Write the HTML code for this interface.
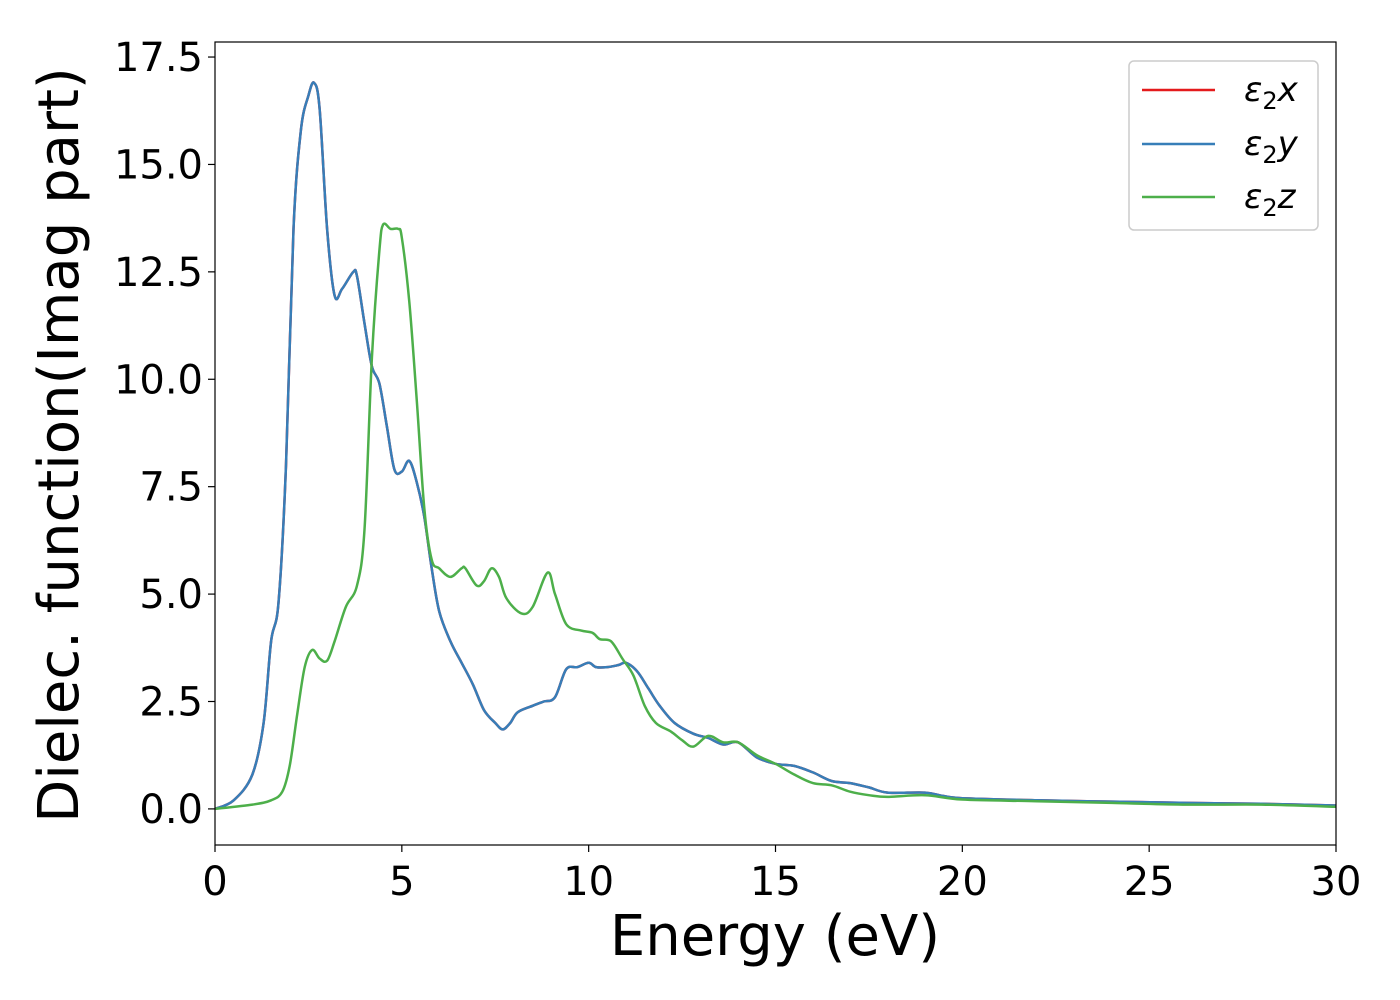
<!DOCTYPE html>
<html><head><meta charset="utf-8"><style>
body{margin:0;background:#fff}
svg{display:block;font-family:"DejaVu Sans","Liberation Sans",sans-serif}
</style></head><body>
<svg width="1400" height="1000" id="chart">
<rect x="0" y="0" width="1400" height="1000" fill="#fff"/>
<g id="plot"></g>
<g id="axes"></g>
<text x="775" y="955" font-size="56" text-anchor="middle">Energy (eV)</text>
<text transform="translate(78,445) rotate(-90)" font-size="56" text-anchor="middle">Dielec. function(Imag part)</text>
<g>
<rect x="1129" y="61" width="189" height="169" rx="5" fill="#fff" stroke="#ccc" stroke-width="1.5"/>
<line x1="1142" y1="90" x2="1215" y2="90" stroke="#e41a1c" stroke-width="2.5"/>
<text x="1244" y="101" font-size="34" font-style="italic">ε<tspan font-style="normal" font-size="24" dy="8">2</tspan><tspan dy="-8">x</tspan></text>
<line x1="1142" y1="144" x2="1215" y2="144" stroke="#377eb8" stroke-width="2.5"/>
<text x="1244" y="155" font-size="34" font-style="italic">ε<tspan font-style="normal" font-size="24" dy="8">2</tspan><tspan dy="-8">y</tspan></text>
<line x1="1142" y1="197" x2="1215" y2="197" stroke="#4daf4a" stroke-width="2.5"/>
<text x="1244" y="208" font-size="34" font-style="italic">ε<tspan font-style="normal" font-size="24" dy="8">2</tspan><tspan dy="-8">z</tspan></text>
</g>
</svg>
<script>
const xyE=[0,0.5,1.0,1.3,1.5,1.7,1.9,2.1,2.3,2.5,2.65,2.8,3.0,3.2,3.4,3.7,3.8,4.0,4.2,4.4,4.6,4.8,5.0,5.2,5.4,5.6,5.8,6.0,6.3,6.6,6.9,7.2,7.5,7.7,7.9,8.1,8.5,8.8,9.1,9.4,9.7,10.0,10.2,10.5,10.8,11.0,11.3,11.6,11.9,12.3,12.8,13.2,13.6,14.0,14.5,15.0,15.5,16.0,16.5,17.0,17.5,18.0,19.0,19.5,20,22,24,26,28,30];
const xyV=[0,0.2,0.8,2.0,3.9,4.8,8,13.5,15.8,16.6,16.9,16.3,13.5,11.95,12.1,12.5,12.4,11.3,10.3,9.9,8.9,7.9,7.85,8.1,7.6,6.8,5.6,4.6,3.9,3.4,2.9,2.3,2.0,1.85,2.0,2.25,2.4,2.5,2.6,3.25,3.3,3.4,3.3,3.3,3.35,3.4,3.2,2.8,2.4,2.0,1.75,1.65,1.5,1.55,1.2,1.05,1.0,0.85,0.65,0.6,0.5,0.38,0.38,0.3,0.25,0.2,0.17,0.14,0.12,0.08];
const zE=[0,1.0,1.5,1.8,2.0,2.2,2.4,2.6,2.8,3.0,3.2,3.5,3.8,4.0,4.2,4.4,4.5,4.7,4.9,5.0,5.2,5.4,5.6,5.8,6.0,6.3,6.6,6.7,7.0,7.2,7.4,7.6,7.8,8.2,8.5,8.9,9.1,9.4,9.8,10.1,10.3,10.6,10.9,11.2,11.5,11.8,12.2,12.5,12.8,13.2,13.6,14.0,14.5,15.0,15.5,16.0,16.5,17.0,17.5,18,19,20,22,24,26,28,30];
const zV=[0,0.1,0.2,0.4,1.0,2.2,3.3,3.7,3.5,3.45,3.9,4.7,5.2,6.5,10.5,13.0,13.6,13.5,13.5,13.3,11.8,9.5,7.0,5.8,5.6,5.4,5.6,5.6,5.2,5.3,5.6,5.4,4.9,4.55,4.7,5.5,5.0,4.3,4.15,4.1,3.95,3.9,3.5,3.1,2.4,2.0,1.8,1.6,1.45,1.7,1.55,1.55,1.25,1.05,0.8,0.6,0.55,0.4,0.32,0.28,0.32,0.22,0.18,0.14,0.1,0.1,0.05];
const xTicks=[0,5,10,15,20,25,30];
const yTicks=[0,2.5,5,7.5,10,12.5,15,17.5];
const yTickLabels=["0.0","2.5","5.0","7.5","10.0","12.5","15.0","17.5"];
const L=215,R=1336,T=42,B=845,xMin=0,xMax=30,yMin=-0.84,yMax=17.85;
const sx=v=>L+(v-xMin)/(xMax-xMin)*(R-L);
const sy=v=>B-(v-yMin)/(yMax-yMin)*(B-T);
const NS="http://www.w3.org/2000/svg";
function pathD(xs,ys){
  const p=xs.map((x,i)=>[sx(x),sy(ys[i])]);
  let d="M"+p[0][0].toFixed(1)+","+p[0][1].toFixed(1);
  for(let i=0;i<p.length-1;i++){
    const p0=p[Math.max(0,i-1)],p1=p[i],p2=p[i+1],p3=p[Math.min(p.length-1,i+2)];
    const c1=[p1[0]+(p2[0]-p0[0])/6,p1[1]+(p2[1]-p0[1])/6];
    const c2=[p2[0]-(p3[0]-p1[0])/6,p2[1]-(p3[1]-p1[1])/6];
    d+="C"+c1.map(v=>v.toFixed(1))+" "+c2.map(v=>v.toFixed(1))+" "+p2.map(v=>v.toFixed(1));
  }
  return d;
}
const plot=document.getElementById('plot');
const axes=document.getElementById('axes');
function addLine(xs,ys,color,name){
  const el=document.createElementNS(NS,'path');
  el.setAttribute('d',pathD(xs,ys));
  el.setAttribute('fill','none');el.setAttribute('stroke',color);el.setAttribute('stroke-width','2.5');
  
  
  plot.appendChild(el);
}
addLine(xyE,xyV,'#e41a1c','series-eps2x');
addLine(xyE,xyV,'#377eb8','series-eps2y');
addLine(zE,zV,'#4daf4a','series-eps2z');
const frame=document.createElementNS(NS,'rect');
frame.setAttribute('x',L);frame.setAttribute('y',T);frame.setAttribute('width',R-L);frame.setAttribute('height',B-T);
frame.setAttribute('fill','none');frame.setAttribute('stroke','#000');frame.setAttribute('stroke-width','1.2');


axes.appendChild(frame);
xTicks.forEach(v=>{
  const t=document.createElementNS(NS,'line');
  t.setAttribute('x1',sx(v));t.setAttribute('x2',sx(v));t.setAttribute('y1',B);t.setAttribute('y2',B+7);t.setAttribute('stroke','#000');t.setAttribute('stroke-width','1.2');
  
  
  axes.appendChild(t);
  const tx=document.createElementNS(NS,'text');
  tx.setAttribute('x',sx(v));tx.setAttribute('y',B+50);tx.setAttribute('font-size','40');tx.setAttribute('text-anchor','middle');
  tx.textContent=String(v);
  
  
  axes.appendChild(tx);
});
yTicks.forEach((v,i)=>{
  const t=document.createElementNS(NS,'line');
  t.setAttribute('x1',L-7);t.setAttribute('x2',L);t.setAttribute('y1',sy(v));t.setAttribute('y2',sy(v));t.setAttribute('stroke','#000');t.setAttribute('stroke-width','1.2');
  
  
  axes.appendChild(t);
  const tx=document.createElementNS(NS,'text');
  tx.setAttribute('x',L-12);tx.setAttribute('y',sy(v)+14);tx.setAttribute('font-size','40');tx.setAttribute('text-anchor','end');
  tx.textContent=yTickLabels[i];
  
  
  axes.appendChild(tx);
});
</script>
</body></html>
